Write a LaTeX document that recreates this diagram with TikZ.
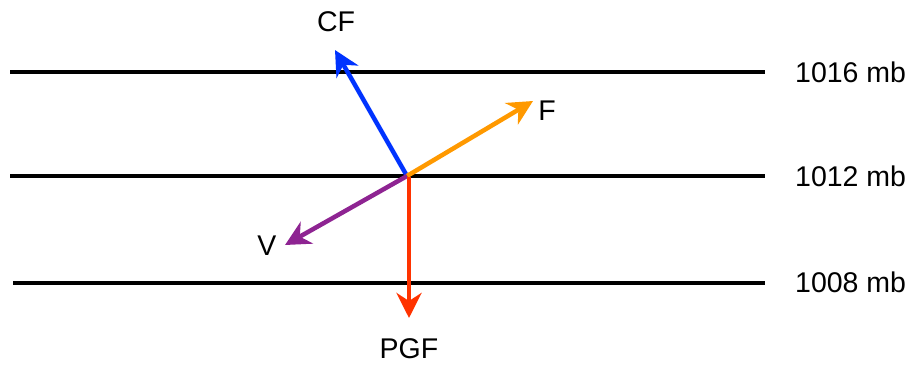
\documentclass[tikz,border=0pt]{standalone}
\usepackage{fontspec}
\setmainfont{Liberation Sans}
\usetikzlibrary{arrows.meta,positioning}
\definecolor{cfblue}{HTML}{0033FF}
\definecolor{forange}{HTML}{FF9900}
\definecolor{vpurple}{HTML}{8E2492}
\definecolor{pgfred}{HTML}{FF3300}

\begin{document}
\begin{tikzpicture}[
    x=1pt, y=-1pt,
    isobar/.style={line width=4.5pt},
    lbl/.style={font=\fontsize{28.5}{32}\selectfont, inner sep=0pt},
    vec/.style={line width=4.5pt, -{Stealth[length=25pt, width=25pt, inset=8pt]}}
  ]
  \useasboundingbox (0,0) rectangle (922,365);

  % isobars
  \node[lbl, anchor=west] (p1016) at (795,72) {1016 mb};
  \node[lbl, anchor=west] (p1012) at (795,176) {1012 mb};
  \node[lbl, anchor=west] (p1008) at (795,282) {1008 mb};
  \coordinate (s1016) at (10,72);
  \coordinate (s1012) at (10,176);
  \coordinate (s1008) at (13,283);
  \draw[isobar] (s1016) -- (765,72);
  \draw[isobar] (s1012) -- (765,176);
  \draw[isobar] (s1008) -- (765,283);

  % force vectors
  \coordinate (o) at (407,176);
  \coordinate (cftip) at (335,50);
  \coordinate (ftip) at (533,101);
  \coordinate (vtip) at (285,245);
  \coordinate (pgftip) at (409,318);
  \node[lbl] (cf) at (336,22) {CF};
  \node[lbl] (f) at (547,111) {F};
  \node[lbl] (v) at (267,246) {V};
  \node[lbl] (pgf) at (409,349) {PGF};

  \draw[vec, cfblue] (o) -- (cftip);
  \draw[vec, forange] (o) -- (ftip);
  \draw[vec, vpurple] (o) -- (vtip);
  \draw[vec, pgfred] (409,177) -- (pgftip);
\end{tikzpicture}
\end{document}
